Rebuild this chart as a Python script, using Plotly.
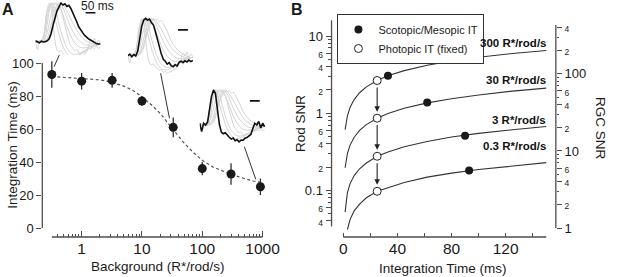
import math
import plotly.graph_objects as go

W, H = 617, 277
FONT = "Arial, 'Liberation Sans', Helvetica, sans-serif"
INK = "#1a1a1a"
AXC = "#4d4d4d"
GRAY = "#d3d3d3"

# ---------------- Panel A data ----------------
background = [0.32, 1, 3.2, 10, 33, 100, 300, 920]          # R*/rod/s
integ_time = [93, 89, 89.5, 77, 61, 36, 32.7, 25]           # ms
integ_err = [8, 5, 4.5, 3, 6, 4, 6.5, 5]
fit_bg = [0.32, 0.5, 1, 2, 3, 5, 7, 10, 15, 20, 30, 40, 50, 70, 100, 150, 200, 300, 500, 700, 1000]
fit_time = [91.8, 91.3, 90.8, 89.8, 88.5, 86, 83.5, 79.5, 74, 69.5, 61.5, 56, 51.5, 46, 41, 37, 35, 32.5, 30, 28.5, 27.5]
xtick_A = [1, 10, 100, 1000]
xtick_A_text = ["1", "10", "100", "1000"]
xminor_A = [0.4, 0.5, 0.6, 0.7, 0.8, 0.9, 2, 3, 4, 5, 6, 7, 8, 9,
            20, 30, 40, 50, 60, 70, 80, 90, 200, 300, 400, 500, 600, 700, 800, 900]
ytick_A = [0, 20, 40, 60, 80, 100]

# Inset responses (normalised amplitude)
t_black = list(range(0, 340, 10))   # ms
t_gray = list(range(0, 340, 20))    # ms
resp_03 = [0.03, 0.0, -0.02, 0.02, 0.0, 0.01, 0.03, 0.08, 0.22, 0.44, 0.63, 0.8, 0.9, 1.0, 0.95, 0.98, 0.91,
           0.94, 0.86, 0.76, 0.65, 0.52, 0.39, 0.3, 0.24, 0.17, 0.12, 0.08, 0.05, 0.02, -0.02, -0.04, -0.05, -0.05]
resp_30 = [0.0, 0.04, -0.03, 0.03, -0.01, 0.12, 0.45, 0.78, 0.95, 1.0, 0.95, 0.98, 0.88, 0.82, 0.64, 0.42, 0.22,
           0.04, -0.1, -0.15, -0.23, -0.19, -0.27, -0.3, -0.24, -0.28, -0.18, -0.15, -0.19, -0.14, -0.17, -0.12, -0.16, -0.13]
resp_1000 = [0.05, -0.19, 0.05, 0.0, 0.08, 0.45, 0.82, 1.0, 0.9, 0.45, 0.02, -0.2, -0.25, -0.22, -0.3, -0.35, -0.4,
             -0.37, -0.45, -0.42, -0.48, -0.43, -0.44, -0.38, -0.36, -0.3, -0.27, -0.1, 0.05, 0.0, 0.1, -0.08, 0.05, -0.05]
resp_1 = [0, 0, 0, 0.05, 0.3, 0.7, 0.97, 0.95, 0.8, 0.6, 0.4, 0.22, 0.1, 0.02, -0.03, -0.05, -0.05]
resp_3 = [0, 0, 0.01, 0.1, 0.45, 0.85, 1.0, 0.88, 0.62, 0.38, 0.18, 0.05, -0.04, -0.08, -0.08, -0.07, -0.06]
resp_10 = [0, 0, 0.03, 0.25, 0.7, 1.0, 0.95, 0.7, 0.4, 0.15, -0.02, -0.12, -0.15, -0.14, -0.12, -0.1, -0.08]
resp_100 = [0, 0, 0.1, 0.65, 1.0, 0.85, 0.45, 0.1, -0.15, -0.28, -0.32, -0.3, -0.26, -0.2, -0.15, -0.1, -0.08]
resp_300 = [0, 0, 0.15, 0.8, 0.98, 0.6, 0.2, -0.12, -0.3, -0.38, -0.38, -0.34, -0.28, -0.2, -0.14, -0.1, -0.06]

# ---------------- Panel B data ----------------
t_ms = [1.3, 2, 3, 5, 8, 12, 17, 25, 33, 45, 62, 80, 100, 125, 150]
snr_300 = [0.61, 0.75, 0.92, 1.19, 1.5, 1.84, 2.19, 2.65, 3.05, 3.56, 4.18, 4.75, 5.31, 5.93, 6.5]
snr_30 = [0.196, 0.244, 0.298, 0.385, 0.487, 0.597, 0.71, 0.86, 0.99, 1.156, 1.36, 1.54, 1.72, 1.93, 2.11]
snr_3 = [0.052, 0.072, 0.093, 0.122, 0.155, 0.19, 0.226, 0.276, 0.314, 0.367, 0.43, 0.49, 0.547, 0.61, 0.67]
snr_03 = [None, None, 0.031, 0.042, 0.054, 0.066, 0.08, 0.097, 0.108, 0.126, 0.148, 0.167, 0.186, 0.208, 0.228]
curve_labels = ["300 R*/rod/s", "30 R*/rod/s", "3 R*/rod/s", "0.3 R*/rod/s"]
photopic_t = [25, 25, 25, 25]
photopic_snr = [2.65, 0.86, 0.276, 0.097]
scotopic_t = [33, 62, 90, 93]
scotopic_snr = [3.05, 1.37, 0.51, 0.18]
xtick_B = [0, 20, 40, 60, 80, 100, 120, 140]
xtick_B_text = ["0", "", "40", "", "80", "", "120", ""]
left_ticks = [0.04, 0.06, 0.1, 0.2, 0.4, 0.6, 1, 2, 4, 6, 10]
left_text = ["4", "6", "0.1", "2", "4", "6", "1", "2", "4", "6", "10"]
left_minor = [0.05, 0.07, 0.08, 0.09, 0.3, 0.5, 0.7, 0.8, 0.9, 3, 5, 7, 8, 9]
right_ticks = [1, 2, 4, 6, 10, 20, 40, 60, 100, 200, 400]
right_text = ["1", "2", "4", "6", "10", "2", "4", "6", "100", "2", "4"]
right_minor = [3, 5, 7, 8, 9, 30, 50, 70, 80, 90, 300]


def px(x):
    return x / W


def py(y):
    return 1 - y / H


def small(lbls):
    out = []
    for s in lbls:
        if len(s) == 1 and s != "1":
            out.append("<span style='font-size:8.5px'>%s</span>" % s)
        else:
            out.append(s)
    return out


fig = go.Figure()

# ---- Panel A ----
fig.add_trace(go.Scatter(x=fit_bg, y=fit_time, mode="lines", xaxis="x", yaxis="y",
                         line=dict(color="#555555", width=1.2, dash="3px,2.5px"), showlegend=False,
                         hoverinfo="skip"))
fig.add_trace(go.Scatter(x=background, y=integ_time, mode="markers", xaxis="x", yaxis="y",
                         marker=dict(color=INK, size=9),
                         error_y=dict(type="data", array=integ_err, color="#333333", thickness=1.3, width=0),
                         showlegend=False))

# ---- Insets ----
black_sets = [(t_black, resp_03), (t_black, resp_30), (t_black, resp_1000)]
gray_sets = [(t_gray, resp_1), (t_gray, resp_3), (t_gray, resp_10), (t_gray, resp_100), (t_gray, resp_300)]
for k in range(3):
    ax = str(4 + k)
    others = gray_sets + [black_sets[j] for j in range(3) if j != k]
    for tt, rr in others:
        fig.add_trace(go.Scatter(x=tt, y=rr, mode="lines", xaxis="x" + ax, yaxis="y" + ax,
                                 line=dict(color=GRAY, width=1, shape="spline"), showlegend=False,
                                 hoverinfo="skip"))
    tt, rr = black_sets[k]
    fig.add_trace(go.Scatter(x=tt, y=rr, mode="lines", xaxis="x" + ax, yaxis="y" + ax,
                             line=dict(color="#111111", width=1.6), showlegend=False, hoverinfo="skip"))

# ---- Panel B ----
for series in (snr_300, snr_30, snr_3, snr_03):
    fig.add_trace(go.Scatter(x=t_ms, y=series, mode="lines", xaxis="x2", yaxis="y2",
                             line=dict(color="#333333", width=1.1), showlegend=False, hoverinfo="skip",
                             connectgaps=False))
fig.add_trace(go.Scatter(x=scotopic_t, y=scotopic_snr, mode="markers", xaxis="x2", yaxis="y2",
                         name="Scotopic/Mesopic IT", marker=dict(color=INK, size=8)))
fig.add_trace(go.Scatter(x=photopic_t, y=photopic_snr, mode="markers", xaxis="x2", yaxis="y2",
                         name="Photopic IT (fixed)",
                         marker=dict(color="white", size=8, line=dict(color="#222222", width=1))))
# invisible trace so the right (RGC) axis is rendered
fig.add_trace(go.Scatter(x=[None], y=[None], xaxis="x2", yaxis="y3", showlegend=False, hoverinfo="skip"))

# ---------------- shapes ----------------
shapes = []
line_style = dict(color=AXC, width=1.3)
# Panel A spines
shapes.append(dict(type="line", xref="x domain", yref="y", x0=0, x1=0, y0=0, y1=100, line=line_style))
shapes.append(dict(type="line", xref="x", yref="y domain", x0=0.32, x1=1000, y0=0, y1=0, line=line_style))
# Panel B spines
shapes.append(dict(type="line", xref="x2 domain", yref="y2", x0=0, x1=0, y0=0.034, y1=16, line=line_style))
shapes.append(dict(type="line", xref="x2 domain", yref="y3", x0=1, x1=1, y0=1, y1=430, line=line_style))
shapes.append(dict(type="line", xref="x2", yref="y2 domain", x0=0, x1=150, y0=0, y1=0, line=line_style))
# connectors from insets to data points
conn = [((0.45, 106.8), (0.35, 97.8)), ((20.4, 93.8), (28.6, 66.5)), ((498, 49.3), (771, 29.5))]
for (a, b) in conn:
    shapes.append(dict(type="line", xref="x", yref="y", x0=a[0], y0=a[1], x1=b[0], y1=b[1],
                       line=dict(color="#333333", width=1)))
# 50 ms scale bars
bar_y = [0.75, 0.69, 0.69]
for k in range(3):
    ax = str(4 + k)
    shapes.append(dict(type="line", xref="x" + ax, yref="y" + ax, x0=255, x1=305, y0=bar_y[k], y1=bar_y[k],
                       line=dict(color="#111111", width=1.6)))


# ---------------- annotations ----------------
def note(text, x, y, size=13.5, angle=0, bold=False):
    return dict(text=("<b>%s</b>" % text) if bold else text, x=px(x), y=py(y), xref="paper", yref="paper",
                xanchor="center", yanchor="middle", textangle=angle, showarrow=False,
                font=dict(size=size, color=INK))


ann = [
    note("A", 8, 9, size=16, bold=True),
    note("B", 302, 10, size=16, bold=True),
    note("Integration Time (ms)", 12, 145, angle=-90),
    note("Background (R*/rod/s)", 161, 266),
    note("Integration Time (ms)", 450, 268),
    note("Rod SNR", 306, 124, angle=-90),
    note("RGC SNR", 611, 128, angle=90),
    note("50 ms", 99, 6, size=12),
]
ends = [snr_300[-1], snr_30[-1], snr_3[-1], snr_03[-1]]
label_dy = [0.10, 0.10, 0.09, 0.21]
for lab, e, dy in zip(curve_labels, ends, label_dy):
    ann.append(dict(text="<b>%s</b>" % lab, x=151, y=math.log10(e) + dy, xref="x2", yref="y2",
                    xanchor="right", yanchor="middle", showarrow=False, font=dict(size=11.5, color="#111")))
for i in range(3):
    tail = math.log10(photopic_snr[i]) - 0.07
    tip = math.log10(photopic_snr[i + 1]) + 0.085
    ann.append(dict(text="", x=photopic_t[i], y=tip, xref="x2", yref="y2",
                    ax=photopic_t[i], ay=tail, axref="x2", ayref="y2", showarrow=True,
                    arrowhead=2, arrowsize=1, arrowwidth=1.1, arrowcolor="#222"))

tickfont_big = dict(size=13, color=INK, family=FONT)
tickfont_x = dict(size=15.5, color=INK, family=FONT)

inset_dom = [((36, 106), (0, 55), (-0.333, 1.077)),
             ((130, 200), (12, 75), (-0.52, 1.17)),
             ((203, 273), (85, 150), (-0.714, 1.143))]

layout = dict(
    width=W, height=H, autosize=False,
    margin=dict(l=0, r=0, t=0, b=0),
    paper_bgcolor="white", plot_bgcolor="rgba(0,0,0,0)",
    font=dict(family=FONT, color=INK),
    showlegend=True,
    legend=dict(x=px(343), y=py(14), xanchor="left", yanchor="top", bgcolor="white",
                bordercolor="#333", borderwidth=1, font=dict(size=11, color=INK),
                itemwidth=30, tracegroupgap=0, traceorder="normal"),
    xaxis=dict(domain=[px(43), px(275)], type="log", range=[-0.6525, 3.132], anchor="y",
               showline=False, showgrid=False, zeroline=False,
               tickmode="array", tickvals=xtick_A, ticktext=xtick_A_text,
               ticks="inside", ticklen=6, tickwidth=1.2, tickcolor=AXC, tickfont=tickfont_x,
               minor=dict(tickmode="array", tickvals=xminor_A, ticks="inside", ticklen=3, tickwidth=1,
                          tickcolor=AXC, showgrid=False)),
    yaxis=dict(domain=[py(237), py(55)], range=[-5.45, 104.85], anchor="x",
               showline=False, showgrid=False, zeroline=False,
               tickmode="array", tickvals=ytick_A, ticks="outside", ticklen=5, tickwidth=1.2,
               tickcolor=AXC, tickfont=tickfont_big),
    xaxis2=dict(domain=[px(337), px(565)], range=[-8.73, 157.1], anchor="y2",
                showline=False, showgrid=False, zeroline=False,
                tickmode="array", tickvals=xtick_B, ticktext=xtick_B_text,
                ticks="inside", ticklen=4, tickwidth=1.2, tickcolor=AXC, tickfont=tickfont_x),
    yaxis2=dict(domain=[py(237), py(18)], type="log", range=[-1.606, 1.234], anchor="x2",
                showline=False, showgrid=False, zeroline=False,
                tickmode="array", tickvals=left_ticks, ticktext=small(left_text),
                ticks="outside", ticklen=5, tickwidth=1.1, tickcolor=AXC, tickfont=tickfont_big,
                minor=dict(tickmode="array", tickvals=left_minor, ticks="outside", ticklen=2.5,
                           tickwidth=1, tickcolor=AXC, showgrid=False)),
    yaxis3=dict(overlaying="y2", side="right", type="log", range=[-0.116, 2.724], anchor="x2",
                showline=False, showgrid=False, zeroline=False,
                tickmode="array", tickvals=right_ticks, ticktext=small(right_text),
                ticks="outside", ticklen=5, tickwidth=1.1, tickcolor=AXC, tickfont=tickfont_big,
                minor=dict(tickmode="array", tickvals=right_minor, ticks="outside", ticklen=2.5,
                           tickwidth=1, tickcolor=AXC, showgrid=False)),
    shapes=shapes,
    annotations=ann,
)
for k, (xd, yd, yr) in enumerate(inset_dom):
    ax = str(4 + k)
    layout["xaxis" + ax] = dict(domain=[px(xd[0]), px(xd[1])], range=[0, 350], visible=False,
                                anchor="y" + ax, fixedrange=True)
    layout["yaxis" + ax] = dict(domain=[py(yd[1]), py(yd[0])], range=list(yr), visible=False,
                                anchor="x" + ax, fixedrange=True)

fig.update_layout(**layout)
fig.write_html("out.html", include_plotlyjs=True, config={"displayModeBar": False},
               post_script="document.body.style.margin='0';document.body.style.overflow='hidden';")
